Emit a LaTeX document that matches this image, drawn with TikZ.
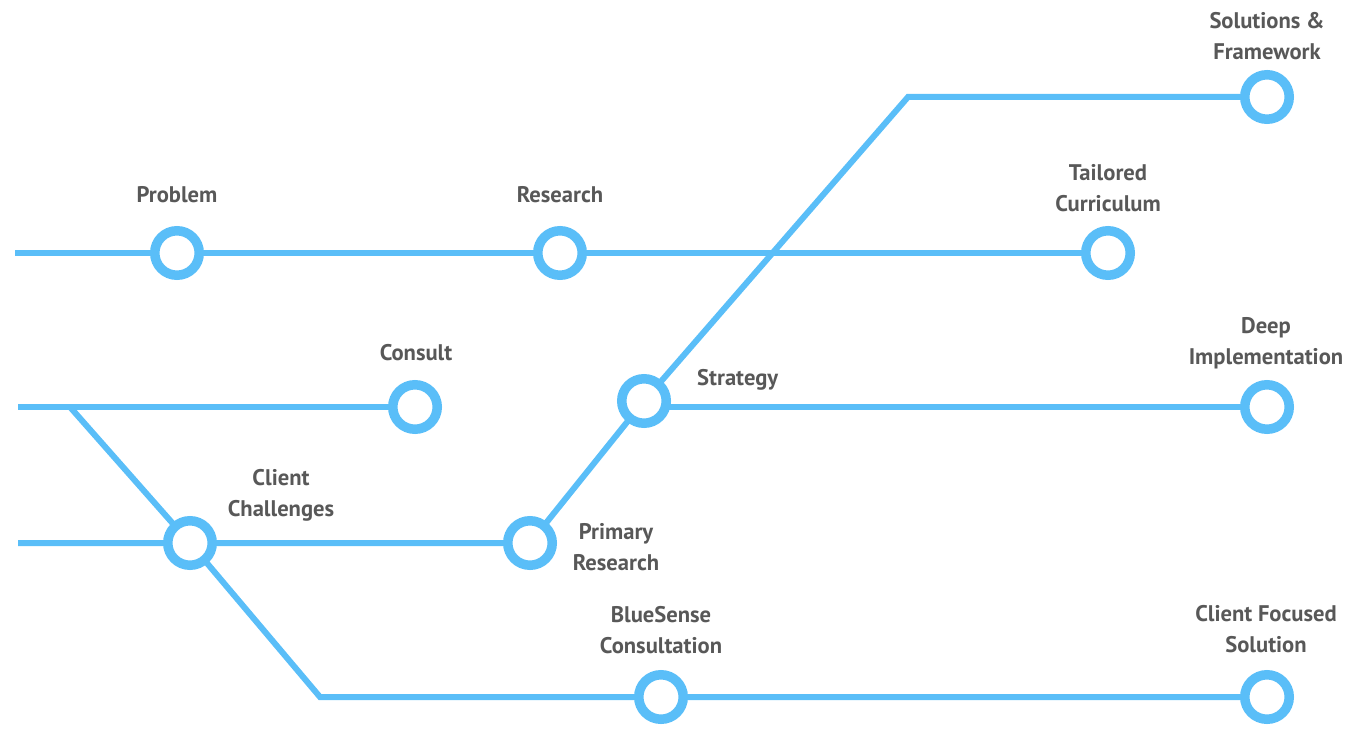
\documentclass[tikz,border=0pt]{standalone}
\usepackage{fontspec}
\setmainfont{PT Sans}
\usetikzlibrary{backgrounds}
\definecolor{metro}{RGB}{90,190,248}
\definecolor{lbltext}{RGB}{88,88,88}
\begin{document}
\begin{tikzpicture}[x=1pt,y=-1pt,
  station/.style={circle,draw=metro,line width=9.5pt,fill=white,minimum size=44.5pt,inner sep=0pt},
  track/.style={draw=metro,line width=6pt},
  lbl/.style={font=\bfseries\fontsize{22.6}{31}\selectfont,text=lbltext,align=center,inner sep=0pt,anchor=base}]
\useasboundingbox (0,0) rectangle (1366,730);
% stations
\node[station] (problem) at (177,253) {};
\node[station] (research) at (560,253) {};
\node[station] (tailored) at (1108,253) {};
\node[station] (sol) at (1267,97) {};
\node[station] (consult) at (415,407) {};
\node[station] (strategy) at (644,401) {};
\node[station] (deep) at (1267,407) {};
\node[station] (cc) at (190,543) {};
\node[station] (primary) at (530,543) {};
\node[station] (blue) at (661,697) {};
\node[station] (cfs) at (1267,697) {};
% free ends and bends
\coordinate (s1) at (15,253);
\coordinate (s2) at (18,407);
\coordinate (s3) at (18,543);
\coordinate (br) at (70,407);
\coordinate (topc) at (908,97);
\coordinate (botc) at (320,697);
% tracks
\begin{pgfonlayer}{background}
\draw[track] (s1) -- (problem.center) -- (research.center) -- (tailored.center);
\draw[track] (s2) -- (consult.center);
\draw[track] (br) -- (cc.center);
\draw[track] (s3) -- (cc.center) -- (primary.center) -- (strategy.center) -- (topc) -- (sol.center);
\draw[track] (strategy.center |- deep.center) -- (deep.center);
\draw[track] (cc.center) -- (botc) -- (blue.center) -- (cfs.center);
\end{pgfonlayer}
% labels
\node[lbl] (lprob) at (177,203) {Problem};
\node[lbl] (lres) at (560,203) {Research};
\node[lbl] (ltail) at (1108,212) {Tailored\\Curriculum};
\node[lbl] (lsol) at (1267,60) {Solutions \&\\Framework};
\node[lbl] (lcons) at (416,360) {Consult};
\node[lbl] (ldeep) at (1266,364) {Deep\\Implementation};
\node[lbl,anchor=base west] (lstrat) at (697,385) {Strategy};
\node[lbl] (lcc) at (281,516) {Client\\Challenges};
\node[lbl] (lprim) at (616,570) {Primary\\Research};
\node[lbl] (lblue) at (661,653) {BlueSense\\Consultation};
\node[lbl] (lcfs) at (1266,652) {Client Focused\\Solution};
\end{tikzpicture}
\end{document}
